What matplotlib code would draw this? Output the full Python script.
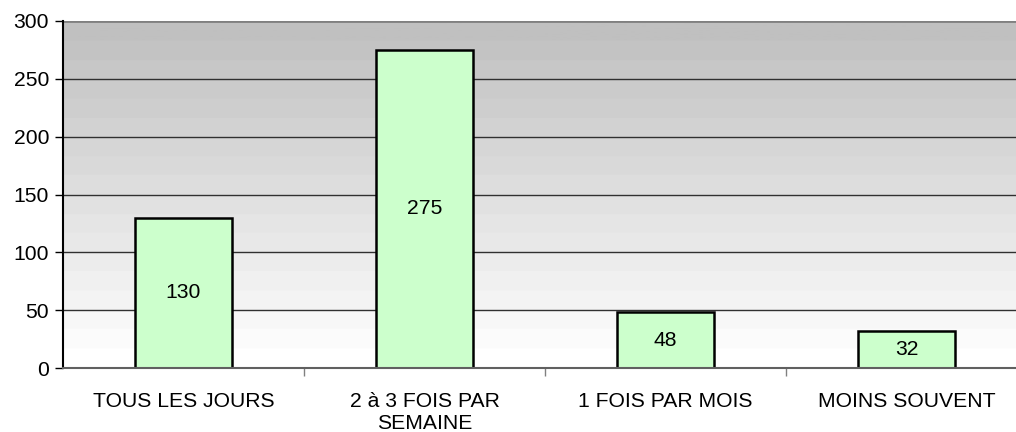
import matplotlib
matplotlib.use("Agg")
import matplotlib.pyplot as plt
import numpy as np
from matplotlib.colors import LinearSegmentedColormap

categories = ["TOUS LES JOURS", "2 à 3 FOIS PAR\nSEMAINE", "1 FOIS PAR MOIS", "MOINS SOUVENT"]
values = [130, 275, 48, 32]
yticks = [0, 50, 100, 150, 200, 250, 300]

plt.rcParams["font.family"] = ["Liberation Sans", "DejaVu Sans"]
FS = 15.2

fig = plt.figure(figsize=(10.16, 4.32), dpi=100)
# plot area runs slightly past the right edge of the image, as in the original
ax = fig.add_axes([63 / 1016, 64 / 432, 964 / 1016, 347 / 432])

x = np.arange(len(categories))
ax.set_xlim(-0.5, len(categories) - 0.5)
ax.set_ylim(0, 300)

# banded gray-to-white background
cmap = LinearSegmentedColormap.from_list("bg", ["#ffffff", "#c0c0c0"])
grad = np.floor(np.linspace(0, 1, 300)[:, None] * 18) / 17
ax.imshow(grad, extent=(-0.5, len(categories) - 0.5, 0, 300), origin="lower",
          aspect="auto", cmap=cmap, vmin=0, vmax=1, zorder=0)

for t in yticks[1:-1]:
    ax.axhline(t, color="#303030", lw=1, zorder=1)
ax.axhline(300, color="#808080", lw=2, zorder=1)

bars = ax.bar(x, values, width=0.40, color="#ccffcc", edgecolor="black", lw=1.8, zorder=2)
for xi, v in zip(x, values):
    ax.text(xi, v / 2, str(v), ha="center", va="center", fontsize=FS, zorder=3)

ax.set_yticks(yticks)
ax.tick_params(axis="y", labelsize=FS, length=6, width=1, direction="out", pad=4)
ax.set_xticks(x)
ax.set_xticklabels(categories, fontsize=FS)
ax.tick_params(axis="x", length=0, pad=17)
ax.set_xticks(np.arange(0.5, len(categories) - 0.5), minor=True)
ax.tick_params(axis="x", which="minor", length=6, color="#808080", width=1)

for s in ["top", "right"]:
    ax.spines[s].set_visible(False)
ax.spines["left"].set_linewidth(1.5)
ax.spines["bottom"].set_color("#606060")
ax.spines["bottom"].set_linewidth(1.5)

fig.savefig("out.png", dpi=100)
